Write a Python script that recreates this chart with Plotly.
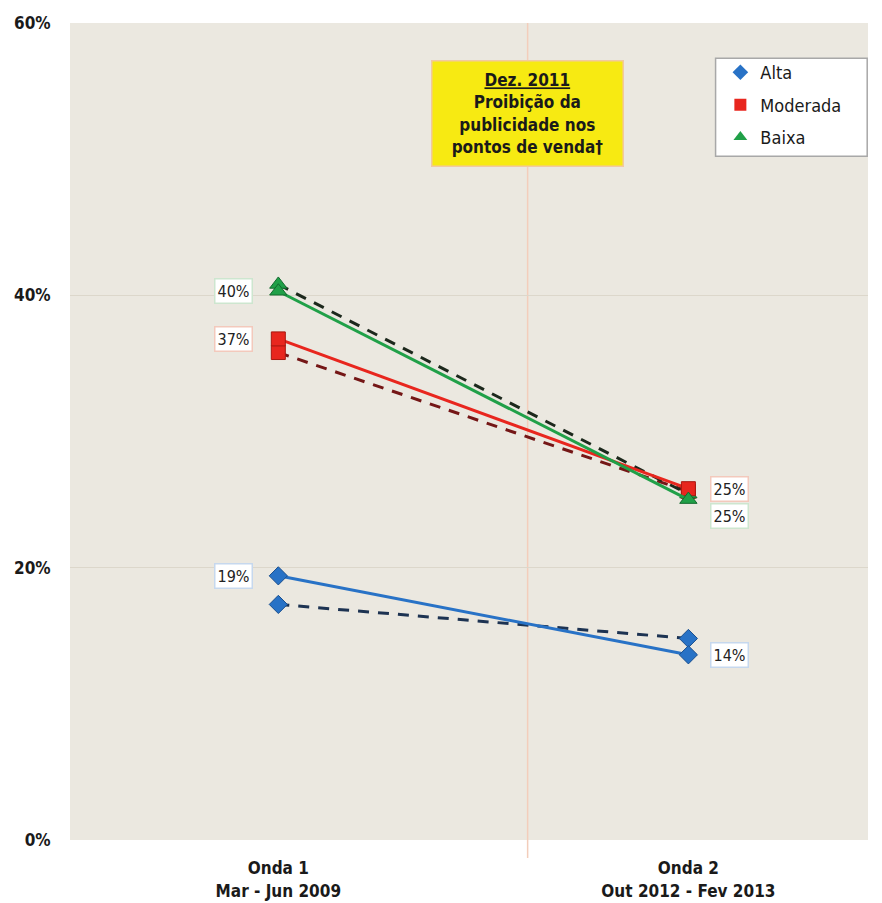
import plotly.graph_objects as go

# Dados (proporções por onda)
ondas = [1, 2]
onda_labels = ["<b>Onda 1</b><br><b>Mar - Jun 2009</b>", "<b>Onda 2</b><br><b>Out 2012 - Fev 2013</b>"]
grupos = ["Alta", "Moderada", "Baixa"]

alta = [0.194, 0.136]
alta_tracejado = [0.173, 0.148]
moderada = [0.368, 0.258]
moderada_tracejado = [0.358, 0.256]
baixa = [0.403, 0.250]
baixa_tracejado = [0.408, 0.254]

rotulos_onda1 = ["19%", "37%", "40%"]
rotulos_onda2 = ["14%", "25%", "25%"]

evento_x = 1.608
evento_texto = "<u>Dez. 2011</u><br>Proibição da<br>publicidade nos<br>pontos de venda†"

FONT = "Tahoma, DejaVu Sans Condensed, Liberation Sans, sans-serif"

cores = {"Alta": "#2872C6", "Moderada": "#E8261E", "Baixa": "#20A048"}
cores_borda = {"Alta": "#1A4F8E", "Moderada": "#A81810", "Baixa": "#126A2E"}
cores_tracejado = {"Alta": "#1D3352", "Moderada": "#741616", "Baixa": "#1C281C"}
cores_rotulo = {"Alta": "#C6D8EE", "Moderada": "#F3C9BC", "Baixa": "#CDE6CF"}
simbolos = {"Alta": "diamond", "Moderada": "square", "Baixa": "triangle-up"}
tamanhos = {"Alta": 14, "Moderada": 14, "Baixa": 15}

solidos = {"Alta": alta, "Moderada": moderada, "Baixa": baixa}
tracejados = {"Alta": alta_tracejado, "Moderada": moderada_tracejado, "Baixa": baixa_tracejado}

fig = go.Figure()

# linhas tracejadas primeiro (ficam por baixo)
for g in grupos:
    fig.add_trace(go.Scatter(
        x=ondas, y=tracejados[g], mode="lines+markers",
        line=dict(color=cores_tracejado[g], width=3, dash="11px,9px"),
        marker=dict(symbol=simbolos[g], size=tamanhos[g], color=cores[g],
                    line=dict(color=cores_borda[g], width=1)),
        showlegend=False, hoverinfo="skip"))

for g in grupos:
    fig.add_trace(go.Scatter(
        x=ondas, y=solidos[g], mode="lines+markers",
        line=dict(color=cores[g], width=3),
        marker=dict(symbol=simbolos[g], size=tamanhos[g], color=cores[g],
                    line=dict(color=cores_borda[g], width=1)),
        showlegend=False))

# entradas da legenda (só marcador)
for g in grupos:
    fig.add_trace(go.Scatter(
        x=[None], y=[None], mode="markers", name=g, legendgroup=g,
        marker=dict(symbol=simbolos[g], size=11, color=cores[g])))

# rótulos de valor
desloc_onda2 = {"Alta": 0, "Moderada": 0, "Baixa": -16}
for i, g in enumerate(grupos):
    fig.add_annotation(x=ondas[0], y=solidos[g][0], text=rotulos_onda1[i],
                       xref="x", yref="y", showarrow=False, xshift=-45,
                       font=dict(family=FONT, size=16, color="#222222"),
                       bgcolor="white", bordercolor=cores_rotulo[g], borderwidth=1.5, borderpad=2)
    fig.add_annotation(x=ondas[1], y=solidos[g][1], text=rotulos_onda2[i],
                       xref="x", yref="y", showarrow=False, xshift=41,
                       yshift=desloc_onda2[g],
                       font=dict(family=FONT, size=16, color="#222222"),
                       bgcolor="white", bordercolor=cores_rotulo[g], borderwidth=1.5, borderpad=2)

# linha do evento
fig.add_shape(type="line", xref="x", yref="paper", x0=evento_x, x1=evento_x,
              y0=-0.022, y1=1, line=dict(color="#F3CDBB", width=1.5), layer="below")

fig.add_annotation(x=evento_x, y=0.889, xref="x", yref="paper", text=evento_texto,
                   showarrow=False, align="center", width=188, height=102,
                   xanchor="center", yanchor="middle",
                   font=dict(family=FONT, size=17, color="#1A1A1A", weight="bold"),
                   bgcolor="#F7EA12", bordercolor="#F2C9A0", borderwidth=1.5)

# caixa da legenda
fig.add_shape(type="rect", xref="paper", yref="paper", x0=0.809, x1=0.999,
              y0=0.837, y1=0.957, fillcolor="white",
              line=dict(color="#A8A8A8", width=1.5), layer="above")

# a página tem margem de 8px no body: compensa no tamanho e margens
fig.update_layout(
    width=874, height=895,
    paper_bgcolor="white", plot_bgcolor="#EBE8E0",
    margin=dict(l=62, r=14, t=15, b=63),
    font=dict(family=FONT, size=16, color="#1A1A1A"),
    legend=dict(x=0.815, y=0.962, xanchor="left", yanchor="top",
                bgcolor="rgba(0,0,0,0)", borderwidth=0,
                font=dict(family=FONT, size=18, color="#1A1A1A"),
                itemsizing="constant", tracegroupgap=6, itemwidth=30),
    xaxis=dict(range=[0.492, 2.438], tickvals=ondas, ticktext=onda_labels,
               showgrid=False, zeroline=False, showline=False, automargin=False,
               ticks="outside", ticklen=13, tickcolor="rgba(0,0,0,0)",
               tickfont=dict(family=FONT, size=17, color="#1A1A1A")),
    yaxis=dict(range=[0, 0.6], tickvals=[0, 0.2, 0.4, 0.6], tickformat=".0%",
               showgrid=True, gridcolor="#DCD7CB", gridwidth=1, zeroline=False,
               showline=False, ticks="outside", ticklen=15, tickcolor="rgba(0,0,0,0)",
               automargin=False,
               tickfont=dict(family=FONT, size=17, color="#1A1A1A", weight="bold")),
)

fig.write_html("out.html")
